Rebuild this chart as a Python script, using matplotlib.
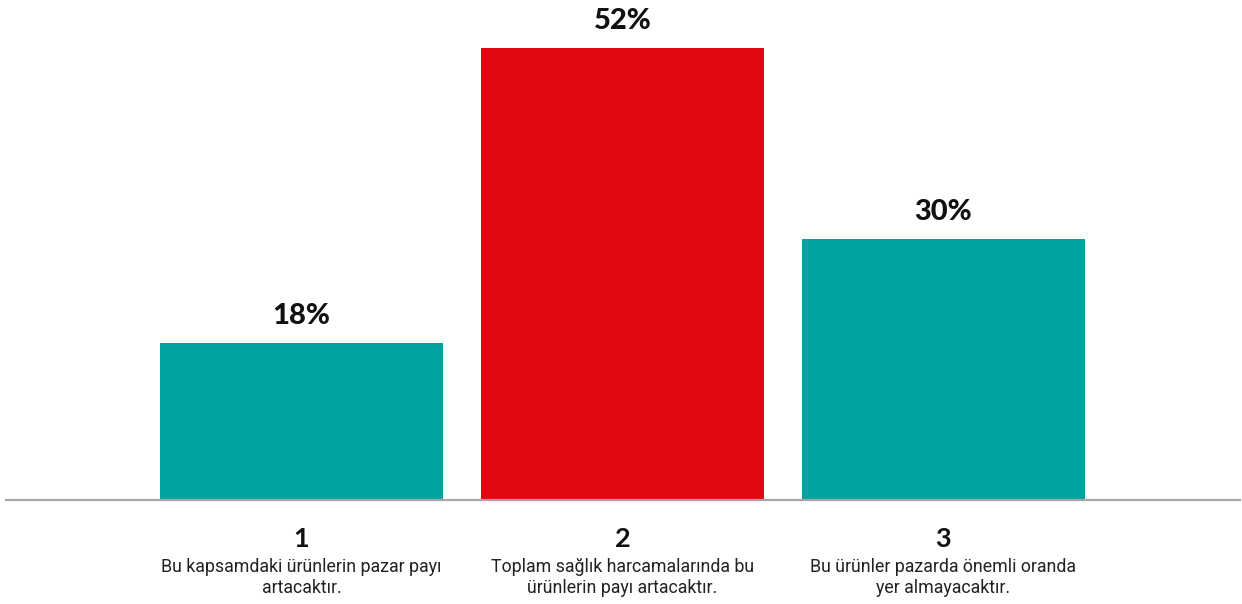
import matplotlib.pyplot as plt
from matplotlib import font_manager

# survey answers
categories = ["1", "2", "3"]
descriptions = [
    "Bu kapsamdaki ürünlerin pazar payı\nartacaktır.",
    "Toplam sağlık harcamalarında bu\nürünlerin payı artacaktır.",
    "Bu ürünler pazarda önemli oranda\nyer almayacaktır.",
]
shares = [18, 52, 30]

teal = "#00A39D"
red = "#E30613"
bar_colors = [teal, red, teal]

names = {f.name for f in font_manager.fontManager.ttflist}
narrow = "Liberation Sans Narrow" if "Liberation Sans Narrow" in names else "Roboto"
desc_size = 14 if narrow == "Liberation Sans Narrow" else 12.8

fig = plt.figure(figsize=(12.42, 6.04), dpi=100)
# axes spans from the left edge to the right edge, baseline near 500px
ax = fig.add_axes([6 / 1242, 104.5 / 604, 1234 / 1242, 499.5 / 604])

x = list(range(len(shares)))
ax.bar(x, shares, width=0.88, color=bar_colors, zorder=2)

ax.set_xlim(-0.9206, 2.924)
ax.set_ylim(0, 57.5)

for spine in ["top", "right", "left"]:
    ax.spines[spine].set_visible(False)
ax.spines["bottom"].set_color("#a6a6a6")
ax.spines["bottom"].set_linewidth(1.6)
ax.set_xticks([])
ax.set_yticks([])

# value labels above the bars
for xi, v in zip(x, shares):
    ax.annotate(f"{v}%", xy=(xi, v), xytext=(0, 13.5), textcoords="offset points",
                ha="center", va="baseline", fontsize=21, fontweight="black",
                family="Lato", color="#111111")

# category numbers and descriptions under the axis
for xi, cat, desc in zip(x, categories, descriptions):
    ax.annotate(cat, xy=(xi, 0), xycoords=("data", "axes fraction"),
                xytext=(0, -19.5), textcoords="offset points",
                ha="center", va="top", fontsize=19.5, family="Lato",
                fontweight="bold", color="#111111")
    ax.annotate(desc, xy=(xi, 0), xycoords=("data", "axes fraction"),
                xytext=(0, -42), textcoords="offset points",
                ha="center", va="top", fontsize=desc_size, family=narrow,
                linespacing=1.2, color="#222222")

fig.savefig("out.png", dpi=100)
plt.close(fig)
